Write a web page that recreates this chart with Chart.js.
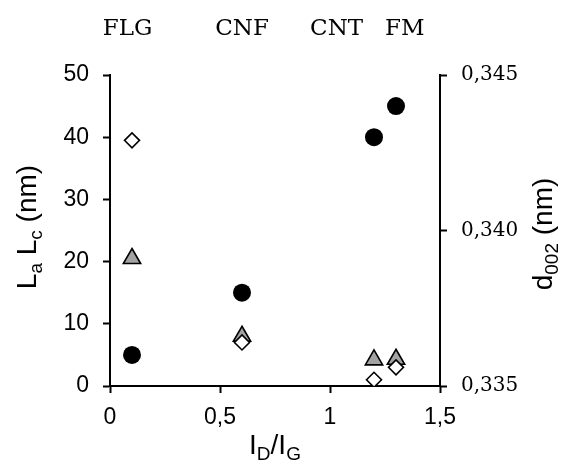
<!DOCTYPE html>
<html>
<head>
<meta charset="utf-8">
<script src="https://cdn.jsdelivr.net/npm/chart.js@4.4.1/dist/chart.umd.min.js"></script>
<style>
  html, body { margin: 0; padding: 0; background: #fff; }
  #wrap { width: 563px; height: 468px; }
</style>
</head>
<body>
<div id="wrap"><canvas id="chart" width="563" height="468"></canvas></div>
<script>
// Materials and their I_D/I_G ratio
const materials = ['FLG', 'CNF', 'CNT', 'FM'];
const idIg = [0.1, 0.6, 1.2, 1.3];
// La (circles) and Lc (triangles) in nm, left axis
const La = [5, 15, 40, 45];
const Lc = [20.5, 8, 4.2, 4.3];
// d002 (diamonds) in nm, right axis
const d002 = [0.3429, 0.3364, 0.3352, 0.3356];
// where the material names sit on the x scale (top of chart)
const labelX = [0.08, 0.6, 1.03, 1.34];

const xTicks = [0, 0.5, 1, 1.5];
const yLeftTicks = [0, 10, 20, 30, 40, 50];
const yRightTicks = [0.335, 0.340, 0.345];

const SANS = '"Liberation Sans", Arial, sans-serif';
const SERIF = '"DejaVu Serif", serif';

function pts(ys) {
    return idIg.map((x, i) => ({ x: x, y: ys[i] }));
}

function fixTicks(list) {
    return function(scale) {
        scale.ticks = list.map(v => ({ value: v }));
    };
}

// text with subscripts, parts = [[text, isSub], ...]
function drawRich(ctx, parts, cx, cy, rot, size) {
    ctx.save();
    ctx.translate(cx, cy);
    ctx.rotate(rot);
    const subSize = Math.round(size * 0.68);
    let total = 0;
    parts.forEach(p => {
        ctx.font = (p[1] ? subSize : size) + 'px ' + SANS;
        total += ctx.measureText(p[0]).width;
    });
    let x = -total / 2;
    ctx.fillStyle = '#000';
    ctx.textBaseline = 'alphabetic';
    ctx.textAlign = 'left';
    parts.forEach(p => {
        ctx.font = (p[1] ? subSize : size) + 'px ' + SANS;
        ctx.fillText(p[0], x, size * 0.36 + (p[1] ? size * 0.22 : 0));
        x += ctx.measureText(p[0]).width;
    });
    ctx.restore();
}

const textPlugin = {
    id: 'extraText',
    afterDraw(chart) {
        const ctx = chart.ctx;
        const xs = chart.scales.x;
        // material names on top
        ctx.save();
        ctx.font = '23px ' + SERIF;
        ctx.fillStyle = '#000';
        ctx.textAlign = 'center';
        ctx.textBaseline = 'alphabetic';
        materials.forEach((m, i) => {
            ctx.fillText(m, xs.getPixelForValue(labelX[i]), 35);
        });
        ctx.restore();
        // axis titles
        drawRich(ctx, [['L', 0], ['a', 1], [' L', 0], ['c', 1], [' (nm)', 0]], 26, 227, -Math.PI / 2, 28);
        drawRich(ctx, [['d', 0], ['002', 1], [' (nm)', 0]], 542, 234, -Math.PI / 2, 28);
        drawRich(ctx, [['I', 0], ['D', 1], ['/I', 0], ['G', 1]], 275, 444, 0, 28);
    }
};

const axisGrid = {
    display: true,
    drawOnChartArea: false,
    drawTicks: true,
    tickLength: 7,
    tickWidth: 2,
    tickColor: '#000'
};
const axisBorder = { display: true, color: '#000', width: 2 };

new Chart(document.getElementById('chart').getContext('2d'), {
    type: 'scatter',
    data: {
        datasets: [{
            label: 'd002',
            data: pts(d002),
            yAxisID: 'y2',
            pointStyle: 'rectRot',
            pointRadius: 7.5,
            pointHoverRadius: 7.5,
            backgroundColor: '#ffffff',
            borderColor: '#000000',
            borderWidth: 1.6
        }, {
            label: 'Lc',
            data: pts(Lc),
            yAxisID: 'y',
            pointStyle: 'triangle',
            pointRadius: 10,
            pointHoverRadius: 10,
            backgroundColor: '#a3a3a3',
            borderColor: '#000000',
            borderWidth: 1.6
        }, {
            label: 'La',
            data: pts(La),
            yAxisID: 'y',
            pointStyle: 'circle',
            pointRadius: 9,
            pointHoverRadius: 9,
            backgroundColor: '#000000',
            borderColor: '#000000',
            borderWidth: 0
        }]
    },
    options: {
        responsive: false,
        animation: false,
        layout: { padding: { top: 75, left: 0, right: 0, bottom: 0 } },
        plugins: {
            legend: { display: false },
            tooltip: { enabled: false }
        },
        scales: {
            x: {
                type: 'linear',
                min: 0,
                max: 1.5,
                afterBuildTicks: fixTicks(xTicks),
                afterFit: s => { s.height = 82; },
                grid: axisGrid,
                border: axisBorder,
                ticks: {
                    color: '#000',
                    padding: 11,
                    font: { family: SANS, size: 23 },
                    callback: v => String(v).replace('.', ',')
                }
            },
            y: {
                type: 'linear',
                position: 'left',
                min: 0,
                max: 50,
                afterBuildTicks: fixTicks(yLeftTicks),
                afterFit: s => { s.width = 110; },
                grid: axisGrid,
                border: axisBorder,
                ticks: {
                    color: '#000',
                    padding: 14,
                    font: { family: SANS, size: 23 }
                }
            },
            y2: {
                type: 'linear',
                position: 'right',
                min: 0.335,
                max: 0.345,
                afterBuildTicks: fixTicks(yRightTicks),
                afterFit: s => { s.width = 123; },
                grid: axisGrid,
                border: axisBorder,
                ticks: {
                    color: '#000',
                    padding: 14,
                    font: { family: SERIF, size: 20 },
                    callback: v => v.toFixed(3).replace('.', ',')
                }
            }
        }
    },
    plugins: [textPlugin]
});
</script>
</body>
</html>
